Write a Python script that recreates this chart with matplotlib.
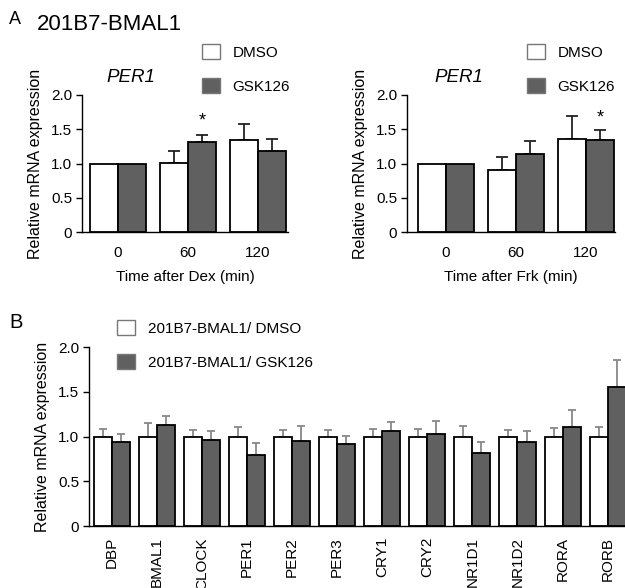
import matplotlib
matplotlib.use("Agg")
import matplotlib.pyplot as plt
from matplotlib.patches import Patch
import numpy as np

plt.rcParams['font.family'] = ['Liberation Sans', 'DejaVu Sans']

W, H = 625, 588
DARK = '#606060'

# ---- Data ----
times = ['0', '60', '120']
dex_dmso = [1.0, 1.01, 1.34]
dex_dmso_err = [0.0, 0.17, 0.24]
dex_gsk = [1.0, 1.32, 1.18]
dex_gsk_err = [0.0, 0.10, 0.18]

frk_dmso = [1.0, 0.90, 1.36]
frk_dmso_err = [0.0, 0.20, 0.34]
frk_gsk = [1.0, 1.14, 1.34]
frk_gsk_err = [0.0, 0.19, 0.15]

genes = ['DBP', 'BMAL1', 'CLOCK', 'PER1', 'PER2', 'PER3', 'CRY1', 'CRY2',
         'NR1D1', 'NR1D2', 'RORA', 'RORB']
b_dmso = [1.0] * 12
b_dmso_err = [0.09, 0.15, 0.07, 0.11, 0.07, 0.07, 0.09, 0.09, 0.12, 0.075, 0.10, 0.11]
b_gsk = [0.94, 1.13, 0.96, 0.80, 0.955, 0.92, 1.06, 1.03, 0.82, 0.94, 1.11, 1.56]
b_gsk_err = [0.09, 0.10, 0.10, 0.13, 0.16, 0.09, 0.10, 0.14, 0.12, 0.12, 0.19, 0.30]

yticks = [0, 0.5, 1.0, 1.5, 2.0]
yticklabels = ['0', '0.5', '1.0', '1.5', '2.0']

FS = 11


def fx(x):
    return x / W


def fy(y):
    return 1 - y / H


def axes_px(x0, y0, x1, y1):
    return fig.add_axes([fx(x0), fy(y1), (x1 - x0) / W, (y1 - y0) / H])


fig = plt.figure(figsize=(W / 100, H / 100), dpi=100)


def style_axis(ax, xlim, labels, rot=0):
    ax.set_ylim(0, 2.0)
    ax.set_xlim(*xlim)
    for s in ['top', 'right']:
        ax.spines[s].set_visible(False)
    for s in ['left', 'bottom']:
        ax.spines[s].set_linewidth(1.0)
        ax.spines[s].set_color('black')
    ax.set_yticks(yticks)
    ax.set_yticklabels(yticklabels, fontsize=FS)
    ax.tick_params(axis='y', length=4, width=1.0, pad=3, direction='out')
    ax.set_xticks(np.arange(len(labels)))
    ax.set_xticklabels(labels, fontsize=FS, rotation=rot)
    ax.tick_params(axis='x', length=0, pad=10 if rot == 0 else 8)
    ax.patch.set_alpha(0)


def draw_bars(ax, w_vals, w_err, d_vals, d_err, width, ecolor, capsize):
    x = np.arange(len(w_vals))
    ax.bar(x - width / 2, w_vals, width, color='white', edgecolor='black', linewidth=1.3, zorder=2)
    ax.bar(x + width / 2, d_vals, width, color=DARK, edgecolor='black', linewidth=1.3, zorder=2)
    for xs, v, e in [(x - width / 2, w_vals, w_err), (x + width / 2, d_vals, d_err)]:
        e = np.asarray(e)
        mask = e > 0
        ax.errorbar(xs[mask], np.asarray(v)[mask], yerr=[np.zeros(mask.sum()), e[mask]],
                    fmt='none', ecolor=ecolor, elinewidth=1.3, capsize=capsize, capthick=1.3, zorder=1)


# ---- Panel A left ----
axL = axes_px(82, 95, 288, 232)
draw_bars(axL, dex_dmso, dex_dmso_err, dex_gsk, dex_gsk_err, 0.4, '#222222', 4)
style_axis(axL, (-0.515, 2.43), times)
axL.set_xlabel('Time after Dex (min)', fontsize=FS, labelpad=7)
axL.set_ylabel('Relative mRNA expression', fontsize=11.5, labelpad=6)
axL.text(1.2, dex_gsk[1] + dex_gsk_err[1] + 0.07, '*', ha='center', va='bottom', fontsize=13)

# ---- Panel A right ----
axR = axes_px(407, 95, 615, 232)
draw_bars(axR, frk_dmso, frk_dmso_err, frk_gsk, frk_gsk_err, 0.4, '#222222', 4)
style_axis(axR, (-0.557, 2.414), times)
axR.set_xlabel('Time after Frk (min)', fontsize=FS, labelpad=7)
axR.set_ylabel('Relative mRNA expression', fontsize=11.5, labelpad=6)
axR.text(2.2, frk_gsk[2] + frk_gsk_err[2] + 0.05, '*', ha='center', va='bottom', fontsize=13)

# ---- Panel B ----
axB = axes_px(89, 347.3, 630.2, 526)
draw_bars(axB, b_dmso, b_dmso_err, b_gsk, b_gsk_err, 0.4, '#888888', 3)
style_axis(axB, (-0.504, 11.5), genes, rot=90)
axB.set_ylabel('Relative mRNA expression', fontsize=11.5, labelpad=6)
for lab in axB.get_xticklabels():
    lab.set_va('top')

# ---- Texts ----
fig.text(fx(9), fy(19), 'A', fontsize=13, va='center', ha='left')
fig.text(fx(37), fy(25), '201B7-BMAL1', fontsize=16, va='center', ha='left')
fig.text(fx(131), fy(77), 'PER1', fontsize=13.5, style='italic', va='center', ha='center')
fig.text(fx(459), fy(77), 'PER1', fontsize=13.5, style='italic', va='center', ha='center')
fig.text(fx(9), fy(322), 'B', fontsize=14.5, va='center', ha='left')

# ---- Legends ----
handles = [Patch(facecolor='white', edgecolor='#777777', linewidth=1.0),
           Patch(facecolor=DARK, edgecolor='#777777', linewidth=1.0)]
leg_kw = dict(loc='upper left', frameon=False, fontsize=FS, handlelength=1.15,
              handleheight=1.15, handletextpad=0.85, labelspacing=1.2,
              borderpad=0, borderaxespad=0)
fig.legend(handles, ['DMSO', 'GSK126'], bbox_to_anchor=(fx(202), fy(44)), **leg_kw)
fig.legend(handles, ['DMSO', 'GSK126'], bbox_to_anchor=(fx(527), fy(44)), **leg_kw)
fig.legend(handles, ['201B7-BMAL1/ DMSO', '201B7-BMAL1/ GSK126'],
           bbox_to_anchor=(fx(117), fy(320)), **leg_kw)

fig.savefig('out.png', dpi=100)
